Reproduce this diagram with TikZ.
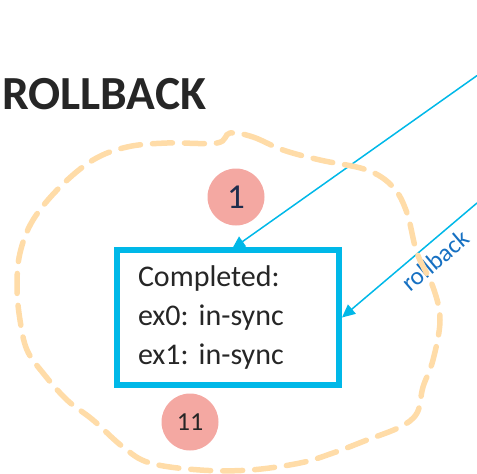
\documentclass[tikz,border=0pt]{standalone}
\usepackage{fontspec}
\setmainfont{Carlito}
\usetikzlibrary{arrows.meta}
\definecolor{titlegray}{HTML}{262626}
\definecolor{boxcyan}{HTML}{00B8E8}
\definecolor{blobor}{HTML}{FFDCA8}
\definecolor{salmon}{HTML}{F4A8A2}
\definecolor{navy}{HTML}{1F2D4D}
\definecolor{lblblue}{HTML}{1670C2}
\pgfdeclarelayer{bg}
\pgfsetlayers{bg,main}
\frenchspacing
\tikzset{
  stepbox/.style={draw=boxcyan, line width=6pt, fill=white, minimum width=222pt, minimum height=135pt,
    text width=180pt, inner xsep=21pt, inner ysep=0pt, align=left,
    font=\fontsize{30}{39}\selectfont, text=titlegray},
  badge/.style={circle, fill=salmon, minimum size=57pt, inner sep=0pt},
  conn/.style={draw=boxcyan, line width=1.5pt, -{Triangle[length=13pt,width=12pt]}},
  blob/.style={draw=blobor, line width=5.5pt, dash pattern=on 20pt off 12pt, line cap=round}
}
\begin{document}
\begin{tikzpicture}[x=1pt,y=-1pt]
\useasboundingbox (0,0) rectangle (477,474);
\node[anchor=base west, inner sep=0pt, font=\fontsize{47.5}{47.5}\selectfont\bfseries, text=titlegray] (title) at (2,109) {ROLLBACK};
\draw[blob] plot[smooth cycle, tension=0.6] coordinates {
 (230,133) (253,137) (283,150) (320,160) (367,170) (393,187) (407,213) (417,253)
 (433,287) (440,320) (433,360) (423,387) (417,413) (400,427) (367,440) (333,453)
 (300,463) (250,470) (200,470) (150,463) (123,447) (93,420) (67,400) (43,373)
 (27,350) (20,320) (17,287) (20,253) (33,220) (60,187) (93,160) (127,147)
 (167,143) (217,143)};
\node[stepbox] (box) at (228,317.5) {Completed:\\ex0: in-sync\\ex1: in-sync};
\node[badge, font=\fontsize{35}{35}\selectfont, text=navy] (c1) at (236,197) {1};
\node[badge, font=\fontsize{26}{26}\selectfont, text=titlegray] (c11) at (190,422) {11};
\coordinate (s1) at (477,75.6);
\coordinate (s2) at (477,203);
\begin{pgfonlayer}{bg}
\draw[conn] (s1) -- ([xshift=4pt,yshift=-2pt]box.north);
\draw[conn] (s2) -- (box.east)
  node[pos=0.39, sloped, below=4pt, font=\fontsize{25}{25}\selectfont, text=lblblue] (lbl) {rollback};
\end{pgfonlayer}
\end{tikzpicture}
\end{document}
